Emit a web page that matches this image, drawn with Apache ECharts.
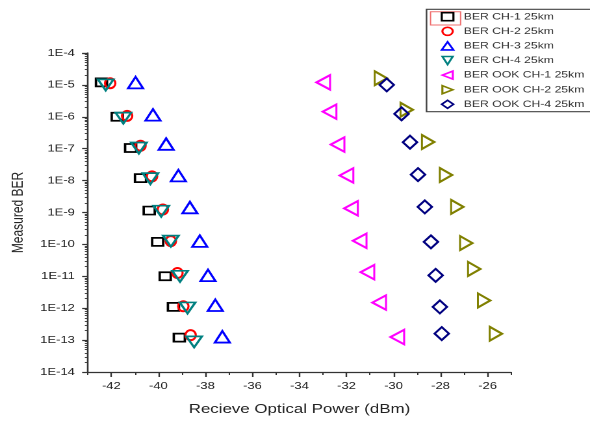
<!DOCTYPE html>
<html><head><meta charset="utf-8">
<script src="https://cdn.jsdelivr.net/npm/echarts@6/dist/echarts.min.js"></script>
<style>
html,body{margin:0;padding:0;background:#fff;overflow:hidden;width:590px;height:421px}
#c{width:454px;height:421px;transform:scaleX(1.29956);transform-origin:0 0}
</style>
</head><body><div id="c"></div>
<script>
// ---- data ----
const seriesNames = ['BER CH-1 25km','BER CH-2 25km','BER CH-3 25km','BER CH-4 25km','BER OOK CH-1 25km','BER OOK CH-2 25km','BER OOK CH-4 25km'];
const powerCh1 = [-42.42,-41.75,-41.18,-40.76,-40.39,-40.03,-39.71,-39.36,-39.11];
const berCh1   = [1.2e-5,1.0e-6,1.05e-7,1.2e-8,1.15e-9,1.2e-10,1.0e-11,1.1e-12,1.2e-13];
const powerCh2 = [-42.05,-41.33,-40.76,-40.27,-39.81,-39.47,-39.19,-38.94,-38.63];
const berCh2   = [1.13e-5,1.07e-6,1.24e-7,1.36e-8,1.24e-9,1.27e-10,1.27e-11,1.15e-12,1.43e-13];
const powerCh3 = [-40.97,-40.23,-39.67,-39.15,-38.66,-38.24,-37.89,-37.58,-37.28];
const berCh3   = [1.18e-5,1.15e-6,1.4e-7,1.43e-8,1.43e-9,1.27e-10,1.07e-11,1.24e-12,1.27e-13];
const powerCh4 = [-42.24,-41.49,-40.83,-40.34,-39.88,-39.47,-39.08,-38.76,-38.48];
const berCh4   = [1.0e-5,9.1e-7,1.05e-7,1.15e-8,1.1e-9,1.27e-10,1.0e-11,1.02e-12,8.8e-14];
const powerOok1 = [-32.99,-32.72,-32.38,-32.00,-31.81,-31.44,-31.11,-30.61,-29.84];
const berOok1   = [1.2e-5,1.45e-6,1.35e-7,1.45e-8,1.35e-9,1.3e-10,1.35e-11,1.5e-12,1.25e-13];
const powerOok2 = [-30.54,-29.44,-28.53,-27.77,-27.29,-26.91,-26.57,-26.15,-25.65];
const berOok2   = [1.62e-5,1.66e-6,1.62e-7,1.5e-8,1.5e-9,1.1e-10,1.7e-11,1.75e-12,1.58e-13];
const powerOok4 = [-30.29,-29.66,-29.30,-28.96,-28.67,-28.41,-28.21,-28.03,-27.95];
const berOok4   = [1.0e-5,1.24e-6,1.6e-7,1.54e-8,1.5e-9,1.2e-10,1.07e-11,1.1e-12,1.6e-13];
const xMajorTicks = [-42,-40,-38,-36,-34,-32,-30,-28,-26];
const xMinorTicks = [-43,-41,-39,-37,-35,-33,-31,-29,-27,-25];

// ---- styles ----
const FONT = 'Liberation Sans, Arial, sans-serif';
const styles = [
  {color:'#000000', symbol:'rect', size:[8.5,8]},
  {color:'#ff0000', symbol:'circle', size:[8,10]},
  {color:'#0000ff', symbol:'triangle', size:[11.5,11.5]},
  {color:'#008080', symbol:'path://M0,0L2,0L1,2Z', size:[12,11]},
  {color:'#ff00ff', symbol:'path://M2,0L0,1L2,2Z', size:[10.5,14.5]},
  {color:'#808000', symbol:'path://M0,0L2,1L0,2Z', size:[9.5,14]},
  {color:'#000080', symbol:'diamond', size:[11,13]}
];
const xs = [powerCh1,powerCh2,powerCh3,powerCh4,powerOok1,powerOok2,powerOok4];
const ys = [berCh1,berCh2,berCh3,berCh4,berOok1,berOok2,berOok4];

const series = seriesNames.map((name,i)=>({
  name, type:'scatter',
  data: xs[i].map((x,j)=>[x, ys[i][j]]),
  symbol: styles[i].symbol,
  symbolSize: styles[i].size,
  itemStyle:{color:'rgba(255,255,255,0)', borderColor:styles[i].color, borderWidth:1.8, opacity:1},
  emphasis:{disabled:true},
  z: 2 + i
}));

const chart = echarts.init(document.getElementById('c'), null, {renderer:'canvas', devicePixelRatio:2});
chart.setOption({
  animation:false,
  backgroundColor:'#fff',
  textStyle:{fontFamily:FONT},
  grid:{left:63.5, right:60.7, top:53, bottom:49, containLabel:false},
  xAxis:[{
    type:'value', min:-43, max:-25,
    name:'Recieve Optical Power (dBm)', nameLocation:'middle', nameGap:31,
    nameTextStyle:{fontSize:13, color:'#222', fontFamily:FONT},
    axisLine:{show:true, onZero:false, lineStyle:{color:'#333', width:1.3}},
    axisTick:{show:true, length:5, customValues:xMajorTicks, lineStyle:{color:'#333', width:1.2}},
    axisLabel:{show:true, customValues:xMajorTicks, margin:9, fontSize:10, color:'#222', fontFamily:FONT},
    splitLine:{show:false}
  },{
    type:'value', min:-43, max:-25, position:'bottom',
    axisLine:{show:false},
    axisTick:{show:true, length:3, customValues:xMinorTicks, lineStyle:{color:'#333', width:1}},
    axisLabel:{show:false},
    splitLine:{show:false}
  }],
  yAxis:{
    type:'log', logBase:10, min:1e-14, max:1e-4, interval:1,
    name:'Measured BER', nameLocation:'middle', nameGap:44,
    nameTextStyle:{fontSize:12, color:'#222', fontFamily:FONT},
    axisLine:{show:true, lineStyle:{color:'#333', width:1.3}},
    axisTick:{show:true, length:4.4, lineStyle:{color:'#333', width:1.2}},
    minorTick:{show:true, splitNumber:9, length:2.3, lineStyle:{color:'#333', width:0.9}},
    axisLabel:{margin:10, fontSize:10, color:'#222', fontFamily:FONT,
      formatter:(v)=>'1E' + Math.round(Math.log10(v))},
    splitLine:{show:false}, minorSplitLine:{show:false}
  },
  legend:{
    orient:'vertical', left:339.1, top:11.7, padding:0,
    itemWidth:9, itemHeight:8, itemGap:4.6,
    data:seriesNames,
    selectedMode:false,
    textStyle:{fontSize:9.4, color:'#333', lineHeight:10, fontFamily:FONT, padding:[0,0,0,3]},
    itemStyle:{borderWidth:1.6}
  },
  graphic:[
    {type:'rect', shape:{x:328.2, y:9.3, width:140, height:102.4}, style:{fill:'none', stroke:'#444', lineWidth:1.2}, z:1},
    {type:'rect', shape:{x:331.3, y:11.7, width:23.1, height:13.3}, style:{fill:'none', stroke:'#f07070', lineWidth:1}, z:1}
  ],
  series
});
</script>
</body></html>
